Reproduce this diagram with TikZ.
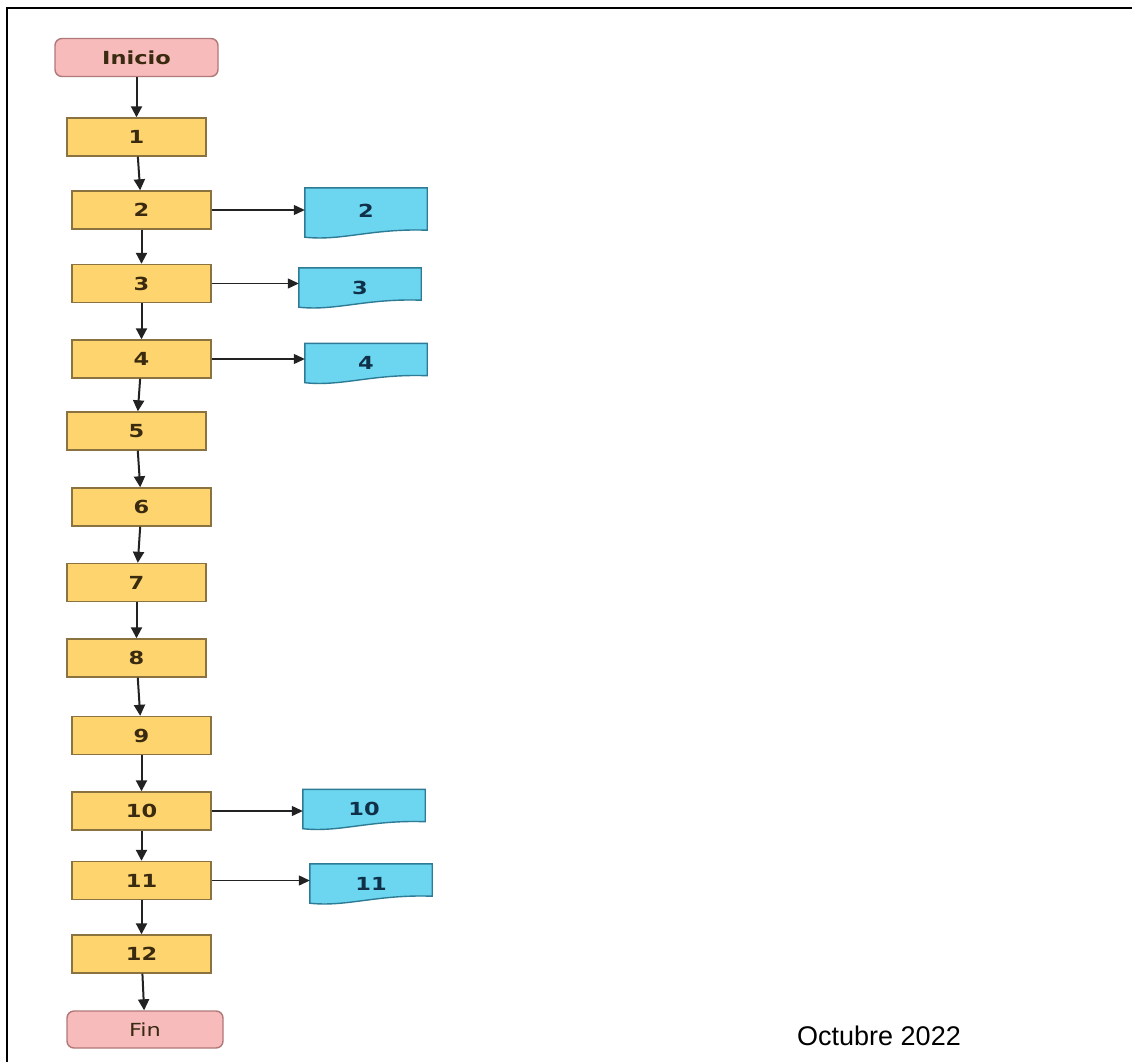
\documentclass[tikz,border=0pt]{standalone}
\usepackage{fontspec}
\setmainfont{Liberation Sans}
\newfontfamily\boxfont{DejaVu Sans}[FakeStretch=1.25]
\usetikzlibrary{arrows.meta,calc}

\definecolor{boxfill}{HTML}{FDD46E}
\definecolor{boxedge}{HTML}{8A7340}
\definecolor{boxtext}{HTML}{3A2A10}
\definecolor{termfill}{HTML}{F8BBBB}
\definecolor{termedge}{HTML}{B07878}
\definecolor{docfill}{HTML}{6CD6F0}
\definecolor{docedge}{HTML}{2E7B96}
\definecolor{doctext}{HTML}{10304A}
\definecolor{arrowcol}{HTML}{222222}

\pgfdeclarelayer{bg}
\pgfsetlayers{bg,main}

\tikzset{
  labelfont/.style={font=\boxfont\bfseries\fontsize{18}{18}\selectfont},
  stepbox/.style={draw=boxedge, fill=boxfill, line width=1.4pt, minimum width=139pt,
    minimum height=38pt, inner sep=0pt, labelfont, text=boxtext},
  terminal/.style={draw=termedge, fill=termfill, line width=1.4pt, rounded corners=7pt,
    minimum height=38pt, inner sep=0pt, text=boxtext},
  docnode/.style={minimum width=122pt, minimum height=39pt, inner sep=0pt,
    labelfont, text=doctext},
  docshape/.style={draw=docedge, fill=docfill, line width=1.4pt},
  flow/.style={draw=arrowcol, line width=2pt, -{Triangle[length=11pt,width=11pt]}},
  side/.style={draw=arrowcol, line width=1.2pt, -{Triangle[length=11pt,width=10pt]}},
}

\begin{document}
\begin{tikzpicture}[x=1pt,y=-1pt]
  \useasboundingbox (0,0) rectangle (1132,1062);

  % page frame (top and left edges)
  \draw[line width=2pt] (7,1062) -- (7,8) -- (1132,8);

  % main sequence
  \node[terminal, minimum width=163pt, labelfont] (ini) at (136.5,57.5) {Inicio};
  \node[stepbox] (s1)  at (136.5,137)   {1};
  \node[stepbox] (s2)  at (141.5,210)   {2};
  \node[stepbox] (s3)  at (141.5,283.5) {3};
  \node[stepbox] (s4)  at (141.5,359)   {4};
  \node[stepbox] (s5)  at (136.5,431)   {5};
  \node[stepbox] (s6)  at (141.5,507)   {6};
  \node[stepbox] (s7)  at (136.5,582.5) {7};
  \node[stepbox] (s8)  at (136.5,658)   {8};
  \node[stepbox] (s9)  at (141.5,735.5) {9};
  \node[stepbox] (s10) at (141.5,811)   {10};
  \node[stepbox] (s11) at (141.5,880.5) {11};
  \node[stepbox] (s12) at (141.5,954)   {12};
  \node[terminal, minimum width=156pt, minimum height=37pt,
        font=\boxfont\fontsize{18}{18}\selectfont] (fin) at (145,1029.5) {Fin};

  % documents
  \node[docnode, minimum height=49pt] (d2) at (366,212.5) {\raisebox{3pt}{2}};
  \node[docnode] (d3)  at (360,287.5) {3};
  \node[docnode] (d4)  at (366,363)   {4};
  \node[docnode] (d10) at (364,809)   {10};
  \node[docnode] (d11) at (371,883.5) {11};

  \begin{pgfonlayer}{bg}
    \fill[white] (0,0) rectangle (1132,1062);
    \foreach \d in {d2,d3,d4,d10,d11}{
      \filldraw[docshape] (\d.north west) -- (\d.north east)
        -- ($(\d.south east)+(0,-7)$)
        .. controls ($(\d.south west)!0.55!(\d.south east)+(0,-9)$)
           and ($(\d.south west)!0.3!(\d.south east)+(0,4)$) .. (\d.south west)
        -- cycle;
    }
  \end{pgfonlayer}

  % flow connectors
  \draw[flow] (ini) -- (s1);
  \draw[flow] (s1) -- (s2);
  \draw[flow] (s2) -- (s3);
  \draw[flow] (s3) -- (s4);
  \draw[flow] (s4) -- (s5);
  \draw[flow] (s5) -- (s6);
  \draw[flow] (s6) -- (s7);
  \draw[flow] (s7) -- (s8);
  \draw[flow] (s8) -- (s9);
  \draw[flow] (s9) -- (s10);
  \draw[flow] (s10) -- (s11);
  \draw[flow] (s11) -- (s12);
  \draw[flow] (s12) -- (fin);

  % outputs
  \draw[side] (s2.east) -- (s2.east -| d2.west);
  \draw[side] (s3.east) -- (s3.east -| d3.west);
  \draw[side] (s4.east) -- (s4.east -| d4.west);
  \draw[side] (s10.east) -- (s10.east -| d10.west);
  \draw[side] (s11.east) -- (s11.east -| d11.west);

  \node[anchor=base west, inner sep=0pt, font=\fontsize{27}{27}\selectfont] (date)
    at (797,1045) {Octubre 2022};
\end{tikzpicture}
\end{document}
